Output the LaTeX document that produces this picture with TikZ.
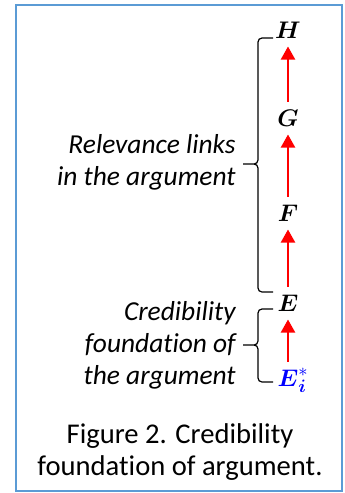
\documentclass[tikz,border=0pt]{standalone}
\usepackage{amsmath}
\usepackage{fontspec}
\setmainfont{Carlito}[Ligatures=NoCommon]
\usetikzlibrary{arrows.meta}
\definecolor{FrameBlue}{HTML}{5B9BD5}
\definecolor{LinkRed}{HTML}{FF0000}
\definecolor{BaseBlue}{HTML}{0000FF}

\begin{document}
\begin{tikzpicture}[x=0.5pt,y=-0.5pt,
    letter/.style={inner sep=3.8pt,text height=8.5pt,text depth=0pt,font=\fontsize{12.5}{14}\selectfont},
    label/.style={align=right,anchor=east,inner sep=0pt,font=\fontsize{13.7}{16}\selectfont\itshape},
    link/.style={-{Triangle[width=7pt,length=6.5pt]},line width=1pt,LinkRed},
    bracket/.style={line width=0.6pt,rounded corners=2pt}]
    \useasboundingbox (0,0) rectangle (344,493);
    \draw[FrameBlue,line width=1pt] (16,5) rectangle (342,491);
    % chain of letters
    \node[letter] (H) at (288,30) {$\boldsymbol{H}$};
    \node[letter] (G) at (288,118) {$\boldsymbol{G}$};
    \node[letter] (F) at (288,213) {$\boldsymbol{F}$};
    \node[letter] (E) at (288,303) {$\boldsymbol{E}$};
    \node[letter,text=BaseBlue] (Ei) at (293,378) {$\boldsymbol{E}_{\boldsymbol{i}}^{*}$};
    \draw[link] (G) -- (H);
    \draw[link] (F) -- (G);
    \draw[link] (E) -- (F);
    \draw[link] (E.south |- Ei.north) -- (E.south);
    % braces and their labels
    \coordinate (relTop) at (273,38);
    \coordinate (relTip) at (243,164);
    \coordinate (relBot) at (273,292);
    \coordinate (credTop) at (273,309);
    \coordinate (credTip) at (243,345);
    \coordinate (credBot) at (273,382);
    \draw[bracket] (relTop) -| ([xshift=15*0.5pt]relTip) -- (relTip)
                   (relTip) -- ([xshift=15*0.5pt]relTip) |- (relBot);
    \draw[bracket] (credTop) -| ([xshift=15*0.5pt]credTip) -- (credTip)
                   (credTip) -- ([xshift=15*0.5pt]credTip) |- (credBot);
    \node[label] (relevance) at (236,162) {Relevance links\\in the argument};
    \node[label] (credibility) at (236,345) {Credibility\\foundation of\\the argument};
    % caption
    \node[align=center,inner sep=0pt,font=\fontsize{14.3}{15.7}\selectfont] (caption) at (180,452) {Figure 2. Credibility\\foundation of argument.};
\end{tikzpicture}
\end{document}
